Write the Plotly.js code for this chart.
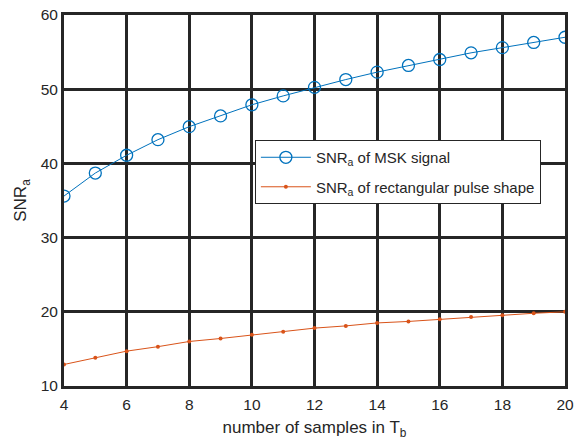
<!DOCTYPE html>
<html>
<head>
<meta charset="utf-8">
<script src="https://cdn.plot.ly/plotly-3.0.1.min.js"></script>
<style>html,body{margin:0;padding:0;background:#fff;}#chart{width:574px;height:446px;}</style>
</head>
<body>
<div id="chart"></div>
<script>
const samples = [4,5,6,7,8,9,10,11,12,13,14,15,16,17,18,19,20];
const snrMSK = [35.6,38.7,41.1,43.2,44.95,46.4,47.9,49.1,50.25,51.3,52.3,53.2,54.0,54.9,55.6,56.3,57.0];
const snrRect = [12.9,13.8,14.7,15.3,16.0,16.4,16.9,17.3,17.8,18.1,18.5,18.7,19.0,19.3,19.55,19.8,20.0];
const xTicks = [4,6,8,10,12,14,16,18,20];
const yTicks = [10,20,30,40,50,60];
const nameMSK = 'SNR<sub>a</sub> of MSK signal';
const nameRect = 'SNR<sub>a</sub> of rectangular pulse shape';

const font = 'Liberation Sans, Arial, sans-serif';
const ink = '#262626';

const traces = [
  {x: samples, y: snrMSK, name: nameMSK, legendgroup: 'g1', mode: 'lines+markers', type: 'scatter',
   line: {color: '#0072BD', width: 1},
   marker: {symbol: 'circle-open', size: 12, color: '#0072BD', line: {width: 1.3, color: '#0072BD'}}},
  {x: samples, y: snrRect, name: nameRect, legendgroup: 'g2', mode: 'lines+markers', type: 'scatter',
   line: {color: '#D95319', width: 1},
   marker: {symbol: 'circle', size: 4, color: '#D95319'}}
];

const layout = {
  width: 574, height: 446,
  margin: {l: 64, r: 9, t: 15, b: 60},
  paper_bgcolor: '#fff', plot_bgcolor: '#fff',
  font: {family: font, color: ink, size: 15.5},
  showlegend: true,
  legend: {x: 0.381, y: 0.663, xanchor: 'left', yanchor: 'top',
    bgcolor: '#fff', bordercolor: ink, borderwidth: 1, itemwidth: 50,
    font: {family: font, size: 15, color: ink}, tracegroupgap: 7},
  xaxis: {range: [4, 20], tickvals: xTicks, ticktext: xTicks.map(String),
    showgrid: true, gridcolor: ink, gridwidth: 3, zeroline: false,
    showline: true, linecolor: ink, linewidth: 3, mirror: true,
    ticks: '', tickfont: {size: 15.5, color: ink}, ticklabelstandoff: 2,
    title: {text: 'number of samples in T<sub>b</sub>', font: {size: 17, color: ink}, standoff: 10}},
  yaxis: {range: [10, 60], tickvals: yTicks, ticktext: yTicks.map(String),
    showgrid: true, gridcolor: ink, gridwidth: 3, zeroline: false,
    showline: true, linecolor: ink, linewidth: 3, mirror: true,
    ticks: '', tickfont: {size: 15.5, color: ink},
    title: {text: 'SNR<sub>a</sub>', font: {size: 17, color: ink}, standoff: 10}}
};

Plotly.newPlot('chart', traces, layout, {displayModeBar: false, staticPlot: true});
</script>
</body>
</html>
